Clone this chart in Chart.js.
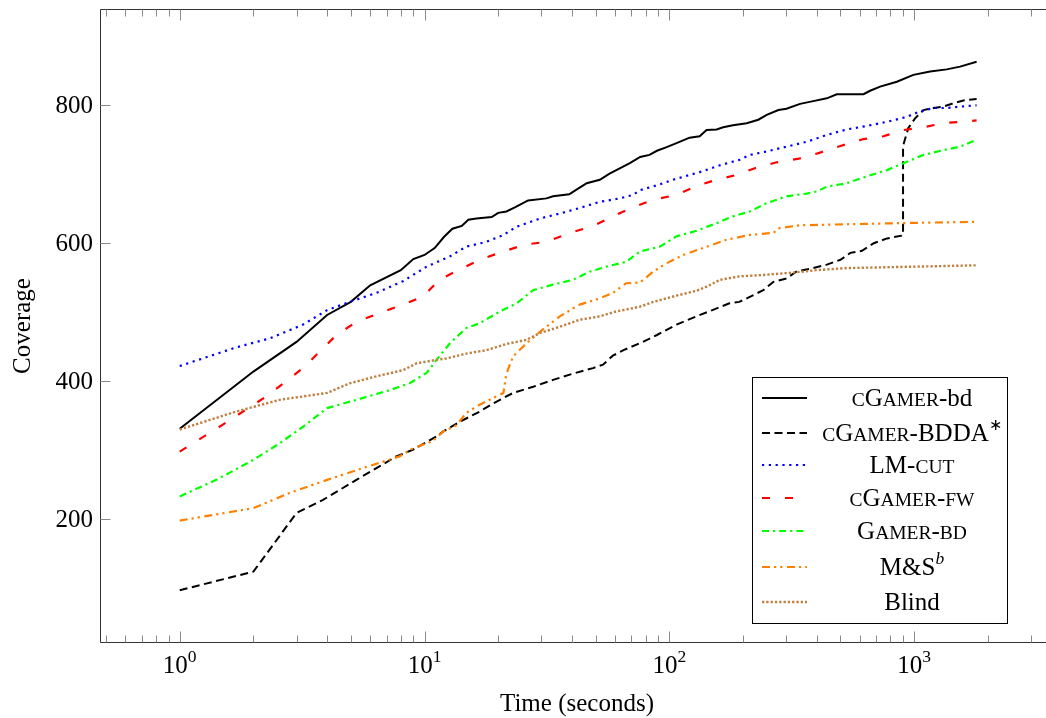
<!DOCTYPE html>
<html><head><meta charset="utf-8">
<script src="https://cdn.jsdelivr.net/npm/chart.js@4.4.1/dist/chart.umd.min.js"></script>
<style>html,body{margin:0;padding:0;background:#fff;} #wrap{width:1046px;height:718px;}</style>
</head><body><div id="wrap"><canvas id="c" width="1046" height="718"></canvas></div>
<script>
// ---- data: [time (s), coverage] ----
const cgamerBd = [[1,330],[2,413],[3,456],[4,495],[5,514],[6,538],[8,560],[9,576],[10,582],[11,592],[12,608],[13,620],[14.2,624],[15.1,633],[16.3,635],[18.8,637],[20,643],[21.6,645],[23.4,651],[26.5,661],[31.5,664],[33.5,667],[39,670],[41,675],[46,686],[52,691],[57,700],[63,708],[69,715],[76,724],[83,727],[89,733],[97,738],[107,744],[121,752],[133,754],[142,763],[156,764],[166,767],[182,770],[207,773],[231,778],[250,785],[279,792],[301,794],[342,801],[387,805],[440,809],[483,815],[621,815],[661,820],[726,826],[850,833],[993,843],[1162,848],[1359,851],[1541,855],[1800,862]];
const cgamerBdda = [[1,96],[2,123],[3,208],[3.85,227],[5.27,256],[7.67,290],[9,300],[11.2,319],[11.9,326],[13.9,340],[16.8,355],[19.1,367],[23,382],[27.8,391],[33.5,401],[40.4,410],[48.8,418],[53.6,423],[58.8,436],[65,444],[78,456],[89,466],[107,481],[129,493],[150,502],[176,512],[193,514],[207,519],[242,531],[266,543],[301,548],[331,558],[387,563],[440,568],[500,575],[549,585],[612,588],[684,599],[775,606],[890,610],[901,611],[901,740],[947,766],[1009,780],[1092,792],[1200,795],[1318,797],[1447,802],[1590,806],[1800,808]];
const lmCut = [[1,421],[1.7,448],[2.33,461],[3.19,481],[4,502],[4.95,514],[6.36,527],[8.17,544],[10.2,565],[12.7,580],[14.8,594],[17.9,601],[21,611],[23.8,623],[29.7,635],[35.7,642],[43,650],[52,659],[62.8,664],[71,669],[76,676],[91,684],[103.5,691],[121,698],[133,702],[161,712],[194,720],[213,727],[250,732],[301,739],[364,746],[440,756],[531,764],[641,769],[775,775],[930,782],[1055,790],[1200,795],[1359,795],[1541,797],[1800,799]];
const cgamerFw = [[1,297],[1.5,336],[2.26,377],[3.19,418],[4.37,466],[5.27,485],[6.57,498],[8.17,510],[9.9,522],[11.5,546],[13.9,561],[16.8,575],[21,587],[25.7,597],[31.5,601],[39.2,614],[48.8,624],[58.8,638],[71,651],[86,662],[107,669],[129,682],[156,691],[188,698],[225,708],[272,716],[342,722],[410,730],[500,740],[621,750],[749,754],[904,763],[1092,767],[1318,773],[1800,777]];
const gamerBd = [[1,232],[1.41,256],[2,285],[2.56,309],[3.19,333],[4,360],[5.27,372],[7.2,386],[8.7,396],[10.2,411],[11.2,430],[12.7,454],[14.8,476],[16.8,483],[20.3,500],[23.8,512],[27.8,531],[33.5,539],[40.4,546],[47.5,558],[55.2,565],[66.6,572],[75.9,587],[91.4,594],[107,609],[129,617],[156,628],[182,638],[213,645],[250,657],[301,667],[364,671],[400,674],[440,681],[531,686],[641,696],[775,705],[904,715],[1092,727],[1318,734],[1541,739],[1800,749]];
const msB = [[1,197],[2,215],[2.81,237],[4,256],[5.6,273],[7.9,290],[9,302],[10.8,312],[11.9,326],[13.5,335],[14.8,353],[16.8,365],[19.7,377],[21,382],[21.6,410],[23,435],[26.1,454],[29.7,471],[35.7,493],[43,510],[52,519],[58.8,527],[66.6,541],[75.9,542],[86,558],[97.5,570],[114,582],[137,592],[171,604],[213,611],[266,614],[282,621],[342,625],[453,626],[621,627],[850,628],[1200,629],[1800,630]];
const blind = [[1,329],[1.7,355],[2.56,372],[4,382],[4.95,396],[6.36,406],[8.17,415],[9.3,425],[11.2,430],[12.3,432],[14.8,439],[17.9,444],[21.6,453],[26.1,459],[29.7,469],[35.7,478],[43,488],[52,493],[60.6,500],[75.9,507],[86,514],[107,523],[129,530],[142,536],[161,546],[194,551],[242,553],[311,556],[400,560],[531,563],[726,564],[993,565],[1359,566],[1800,567]];

const seriesNames = ['cGamer-bd','cGamer-BDDA*','LM-cut','cGamer-fw','Gamer-bd','M&S^b','Blind'];
const xMajorTicks = [1,10,100,1000];
const xTickExponents = ['0','1','2','3'];
const yTicks = [200,400,600,800];
const yTickLabels = ['200','400','600','800'];
const xTitle = 'Time (seconds)';
const yTitle = 'Coverage';

const FONT = '"Liberation Serif","Times New Roman",serif';
const FS = 25;

// legend text pieces: n = normal, sc = small caps, sup = superscript, supi = italic superscript
const legendParts = [
  [['C','sc'],['G','n'],['AMER','sc'],['-bd','n']],
  [['C','sc'],['G','n'],['AMER','sc'],['-BDDA','n'],['\u2217','sup']],
  [['LM-','n'],['CUT','sc']],
  [['C','sc'],['G','n'],['AMER','sc'],['-','n'],['FW','sc']],
  [['G','n'],['AMER','sc'],['-','n'],['BD','sc']],
  [['M&S','n'],['b','supi']],
  [['Blind','n']]
];
const legendRowY = [398, 433, 465, 498, 531, 567, 602];

const styles = [
  {c:'#000000', d:[], w:2},
  {c:'#000000', d:[8,4.5], w:2},
  {c:'#0000ff', d:[2.2,4.6], w:2.2},
  {c:'#ff0000', d:[8,15], w:2.2},
  {c:'#00ff00', d:[7,4,2.2,4], w:2.2},
  {c:'#ff8000', d:[8,4,2.2,4,2.2,4.6], w:2.2},
  {c:'#bf8040', d:[2.3,2], w:2.4}
];
const allSeries = [cgamerBd, cgamerBdda, lmCut, cgamerFw, gamerBd, msB, blind];

function toPts(arr){ return arr.map(p => ({x:p[0], y:p[1]})); }

function fontFor(k){
  if (k==='sc') return (FS*0.78)+'px '+FONT;
  if (k==='sup') return (FS*0.62)+'px '+FONT;
  if (k==='supi') return 'italic '+(FS*0.7)+'px '+FONT;
  return FS+'px '+FONT;
}
function drawRich(ctx, parts, cx, baseY){
  let w = 0;
  parts.forEach(p => { ctx.font = fontFor(p[1]); w += ctx.measureText(p[0]).width; });
  let x = cx - w/2;
  ctx.textAlign = 'left'; ctx.textBaseline = 'alphabetic';
  parts.forEach(p => {
    ctx.font = fontFor(p[1]);
    const dy = (p[1]==='sup' || p[1]==='supi') ? -FS*0.42 : 0;
    ctx.fillText(p[0], x, baseY + dy);
    x += ctx.measureText(p[0]).width;
  });
}

const decor = {
  id: 'decor',
  afterDatasetsDraw(chart){
    const {ctx, chartArea:a, scales:{x, y}} = chart;
    ctx.save();
    // legend box
    const bx = 752.5, by = 377.5, bw = 255, bh = 246;
    ctx.fillStyle = '#fff';
    ctx.fillRect(bx, by, bw, bh);
    ctx.strokeStyle = '#000'; ctx.lineWidth = 1; ctx.setLineDash([]);
    ctx.strokeRect(bx, by, bw, bh);
    chart.data.datasets.forEach(ds => {
      const i = ds.idx;
      const ry = legendRowY[i];
      ctx.save();
      ctx.strokeStyle = ds.borderColor; ctx.lineWidth = ds.borderWidth;
      ctx.setLineDash(ds.borderDash || []);
      ctx.beginPath(); ctx.moveTo(762, ry); ctx.lineTo(807, ry); ctx.stroke();
      ctx.restore();
      ctx.fillStyle = '#000';
      drawRich(ctx, legendParts[i], 912, ry + 7.5);
    });

    // axis lines
    const L = Math.round(a.left) + 0.5, T = Math.round(a.top) + 0.5, B = Math.round(a.bottom) + 0.5, R = a.right + 2;
    ctx.setLineDash([]);
    ctx.strokeStyle = '#333'; ctx.lineWidth = 1;
    ctx.beginPath(); ctx.moveTo(R, T); ctx.lineTo(L, T); ctx.lineTo(L, B); ctx.lineTo(R, B); ctx.stroke();

    // ticks
    ctx.strokeStyle = '#8a8a8a';
    const minors = [];
    for (let d = -1; d <= 3; d++) for (let m = 2; m <= 9; m++) minors.push(m * Math.pow(10, d));
    ctx.beginPath();
    minors.forEach(v => {
      if (v < x.min || v > x.max) return;
      const px = Math.round(x.getPixelForValue(v)) + 0.5;
      ctx.moveTo(px, B); ctx.lineTo(px, B - 7);
      ctx.moveTo(px, T); ctx.lineTo(px, T + 7);
    });
    xMajorTicks.forEach(v => {
      const px = Math.round(x.getPixelForValue(v)) + 0.5;
      ctx.moveTo(px, B); ctx.lineTo(px, B - 11);
      ctx.moveTo(px, T); ctx.lineTo(px, T + 11);
    });
    yTicks.forEach(v => {
      const py = Math.round(y.getPixelForValue(v)) + 0.5;
      ctx.moveTo(L, py); ctx.lineTo(L + 10, py);
    });
    ctx.stroke();

    // tick labels
    ctx.fillStyle = '#000';
    yTicks.forEach((v, i) => {
      const py = y.getPixelForValue(v);
      ctx.font = FS + 'px ' + FONT; ctx.textAlign = 'right'; ctx.textBaseline = 'alphabetic';
      ctx.fillText(yTickLabels[i], 93, py + 8.5);
    });
    xMajorTicks.forEach((v, i) => {
      const px = x.getPixelForValue(v);
      ctx.font = FS + 'px ' + FONT;
      const w1 = ctx.measureText('10').width;
      ctx.font = (FS*0.7) + 'px ' + FONT;
      const w2 = ctx.measureText(xTickExponents[i]).width;
      const x0 = px - (w1 + w2) / 2;
      ctx.textAlign = 'left'; ctx.textBaseline = 'alphabetic';
      ctx.font = FS + 'px ' + FONT; ctx.fillText('10', x0, 673);
      ctx.font = (FS*0.7) + 'px ' + FONT; ctx.fillText(xTickExponents[i], x0 + w1, 662);
    });

    // axis titles
    ctx.font = FS + 'px ' + FONT; ctx.textAlign = 'center'; ctx.textBaseline = 'alphabetic';
    ctx.fillText(xTitle, 577, 711);
    ctx.save();
    ctx.translate(30, 326); ctx.rotate(-Math.PI/2);
    ctx.fillText(yTitle, 0, 0);
    ctx.restore();
    ctx.restore();
  }
};

new Chart(document.getElementById('c'), {
  type: 'line',
  data: {
    datasets: allSeries.map((s, i) => ({
      label: seriesNames[i],
      idx: i,
      order: allSeries.length - i,
      data: toPts(s),
      borderColor: styles[i].c,
      borderDash: styles[i].d,
      borderWidth: styles[i].w,
      borderCapStyle: 'butt',
      borderJoinStyle: 'miter',
      pointRadius: 0,
      tension: 0,
      fill: false
    }))
  },
  options: {
    responsive: false,
    devicePixelRatio: 1,
    animation: false,
    layout: { padding: { left: 100, top: 9, right: 0, bottom: 76 } },
    plugins: { legend: { display: false }, tooltip: { enabled: false } },
    scales: {
      x: { type: 'logarithmic', min: 0.4725, max: 3457, display: false },
      y: { type: 'linear', min: 21, max: 938.5, display: false }
    }
  },
  plugins: [decor]
});
</script>
</body></html>
